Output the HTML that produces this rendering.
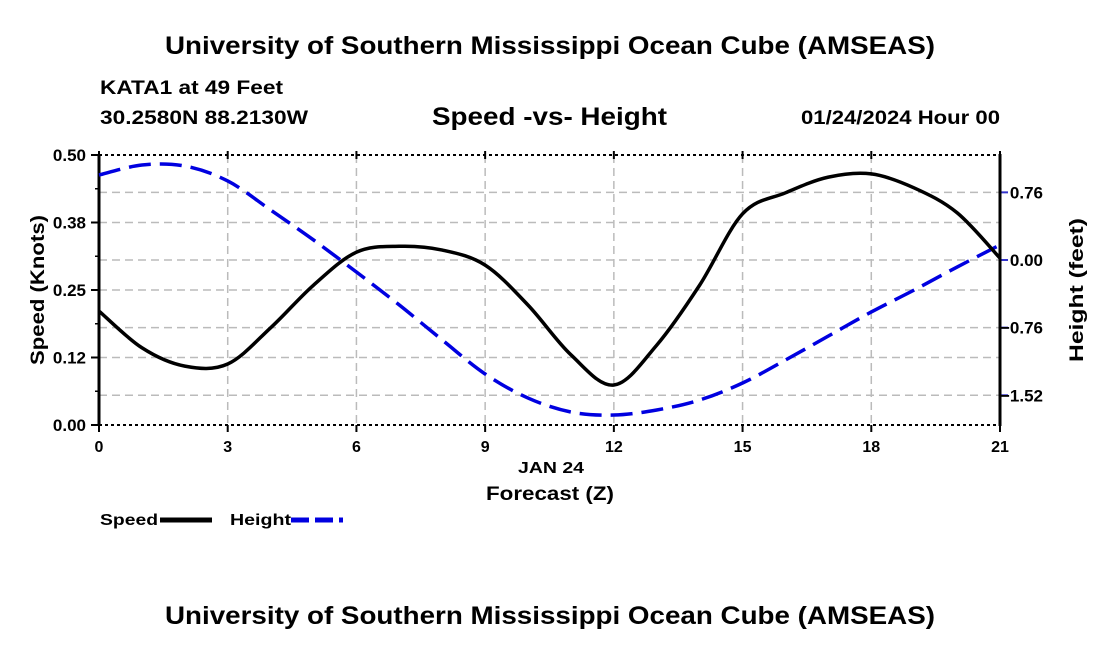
<!DOCTYPE html>
<html><head><meta charset="utf-8"><style>
body{margin:0;background:#fff;}
svg text{font-family:"Liberation Sans",sans-serif;font-weight:bold;fill:#000;}
</style></head><body>
<svg width="1100" height="650" xmlns="http://www.w3.org/2000/svg">
<text x="165" y="54" font-size="25" textLength="770" lengthAdjust="spacingAndGlyphs">University of Southern Mississippi Ocean Cube (AMSEAS)</text>
<text x="100" y="94" font-size="19" textLength="183" lengthAdjust="spacingAndGlyphs">KATA1 at 49 Feet</text>
<text x="100" y="124" font-size="19" textLength="208" lengthAdjust="spacingAndGlyphs">30.2580N  88.2130W</text>
<text x="432" y="125" font-size="25" textLength="235" lengthAdjust="spacingAndGlyphs">Speed -vs- Height</text>
<text x="801" y="124" font-size="19" textLength="199" lengthAdjust="spacingAndGlyphs">01/24/2024 Hour 00</text>
<g id="grid"></g>
<g id="axes"></g>
<g id="series"></g>
<text x="518" y="473" font-size="16" textLength="66" lengthAdjust="spacingAndGlyphs">JAN 24</text>
<text x="486" y="500" font-size="19" textLength="128" lengthAdjust="spacingAndGlyphs">Forecast (Z)</text>
<text transform="translate(44,290) rotate(-90)" font-size="19" text-anchor="middle" textLength="150" lengthAdjust="spacingAndGlyphs">Speed (Knots)</text>
<text transform="translate(1083,290) rotate(-90)" font-size="19" text-anchor="middle" textLength="144" lengthAdjust="spacingAndGlyphs">Height (feet)</text>
<g>
<text x="100" y="525" font-size="16" textLength="58" lengthAdjust="spacingAndGlyphs">Speed</text>
<line x1="160" y1="520" x2="212" y2="520" stroke="#000" stroke-width="5"/>
<text x="230" y="525" font-size="16" textLength="61" lengthAdjust="spacingAndGlyphs">Height</text>
<line x1="291" y1="520" x2="343" y2="520" stroke="#0000e0" stroke-width="5" stroke-dasharray="18,6"/>
</g>
<text x="165" y="624" font-size="25" textLength="770" lengthAdjust="spacingAndGlyphs">University of Southern Mississippi Ocean Cube (AMSEAS)</text>
</svg>
<script>
const hours=[0,1,2,3,4,5,6,7,8,9,10,11,12,13,14,15,16,17,18,19,20,21];
const speed=[0.211,0.143,0.109,0.113,0.180,0.259,0.320,0.331,0.324,0.296,0.222,0.130,0.074,0.148,0.259,0.391,0.430,0.459,0.465,0.439,0.393,0.309];
const height=[0.955,1.067,1.056,0.888,0.562,0.225,-0.135,-0.506,-0.899,-1.281,-1.551,-1.708,-1.742,-1.685,-1.573,-1.382,-1.124,-0.854,-0.584,-0.337,-0.079,0.169];
const xTicks=[0,3,6,9,12,15,18,21];
const yTicks=[0,0.125,0.25,0.375,0.5];
const yLabels=["0.00","0.12","0.25","0.38","0.50"];
const y2Ticks=[0.76,0,-0.76,-1.52];
const y2Labels=["0.76","0.00","\u22120.76","\u22121.52"];
const NS="http://www.w3.org/2000/svg";
const L=99,R=1000,T=155,B=425;
const X=h=>L+(R-L)*h/21;
const Y=s=>B-(B-T)*s/0.5;
const Y2=f=>260-89*f;
function mk(tag,attrs,parent){const e=document.createElementNS(NS,tag);for(const k in attrs)e.setAttribute(k,attrs[k]);parent.appendChild(e);return e;}
const grid=document.getElementById('grid'),axes=document.getElementById('axes'),series=document.getElementById('series');
yTicks.forEach((t,i)=>{if(t>0&&t<0.5){const g=mk('line',{x1:L,x2:R,y1:Y(t),y2:Y(t),stroke:'#bbb','stroke-width':1.5,'stroke-dasharray':'8,5'},grid);

}
const tk=mk('line',{x1:L-8,x2:L,y1:Y(t),y2:Y(t),stroke:'#000','stroke-width':2},axes);


const tx=mk('text',{x:L-13,y:Y(t)+6,'font-size':17,'text-anchor':'end'},axes);tx.textContent=yLabels[i];

});
for(let i=0;i<8;i++){const m=mk('line',{x1:L-4,x2:L,y1:Y(0.0625*i+0.0625),y2:Y(0.0625*i+0.0625),stroke:'#000','stroke-width':1.5},axes);

}
y2Ticks.forEach((t,i)=>{const g=mk('line',{x1:L,x2:R,y1:Y2(t),y2:Y2(t),stroke:'#bbb','stroke-width':1.5,'stroke-dasharray':'8,5'},grid);


const tk=mk('line',{x1:R,x2:R+8,y1:Y2(t),y2:Y2(t),stroke:'#3333cc','stroke-width':2},axes);


const tx=mk('text',{x:1043,y:Y2(t)+6,'font-size':17,'text-anchor':'end'},axes);tx.textContent=y2Labels[i];

});
xTicks.forEach(t=>{if(t>0&&t<21){const g=mk('line',{x1:X(t),x2:X(t),y1:T,y2:B,stroke:'#bbb','stroke-width':1.5,'stroke-dasharray':'8,5'},grid);

}
const tk=mk('line',{x1:X(t),x2:X(t),y1:B,y2:B+7,stroke:'#000','stroke-width':2},axes);


const tk2=mk('line',{x1:X(t),x2:X(t),y1:T-4,y2:T+4,stroke:'#000','stroke-width':2},axes);


const tx=mk('text',{x:X(t),y:B+27,'font-size':16,'text-anchor':'middle'},axes);tx.textContent=t;

});
[[T,'top-border'],[B,'bottom-border']].forEach(([y,n])=>{const l=mk('line',{x1:L,x2:R,y1:y,y2:y,stroke:'#000','stroke-width':2,'stroke-dasharray':'3,3'},axes);

});
[[L,'left-axis'],[R,'right-axis']].forEach(([x,n])=>{const l=mk('line',{x1:x,x2:x,y1:T-1,y2:B+1,stroke:'#000','stroke-width':3},axes);

});
function smooth(pts){let d='M'+pts[0][0]+','+pts[0][1];for(let i=0;i<pts.length-1;i++){const p0=pts[Math.max(0,i-1)],p1=pts[i],p2=pts[i+1],p3=pts[Math.min(pts.length-1,i+2)];
d+=' C'+(p1[0]+(p2[0]-p0[0])/6)+','+(p1[1]+(p2[1]-p0[1])/6)+' '+(p2[0]-(p3[0]-p1[0])/6)+','+(p2[1]-(p3[1]-p1[1])/6)+' '+p2[0]+','+p2[1];}return d;}
const hp=mk('path',{d:smooth(hours.map((h,i)=>[X(h),Y2(height[i])])),fill:'none',stroke:'#0000e0','stroke-width':3.5,'stroke-dasharray':'22,9'},series);


const sp=mk('path',{d:smooth(hours.map((h,i)=>[X(h),Y(speed[i])])),fill:'none',stroke:'#000','stroke-width':3.5},series);


</script>
</body></html>
